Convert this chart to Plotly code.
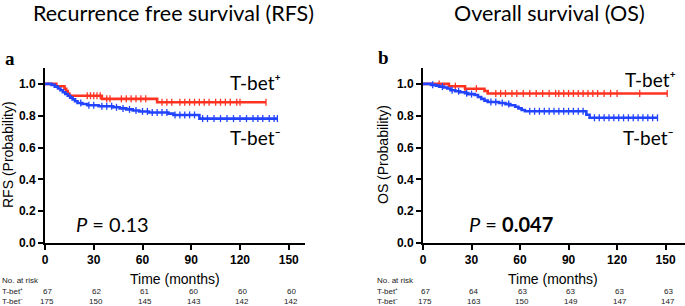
import numpy as np
import plotly.graph_objects as go

# ---------------- data ----------------
# RFS, T-bet+ (step times / survival)
rfs_pos_t = [0, 7, 12, 13, 14, 15, 35, 69]
rfs_pos_s = [1.0, 0.985, 0.97, 0.955, 0.94, 0.926, 0.906, 0.885]
rfs_pos_end = 136
rfs_pos_cens = [26, 28, 30, 32, 34, 38, 40, 47, 50, 53, 56, 59, 62, 72, 75, 78, 83, 86,
                89, 92, 95, 98, 101, 105, 108, 111, 114, 118, 120, 136]

# RFS, T-bet-
rfs_neg_t = [0, 4, 6, 8, 9.5, 11, 12.5, 14, 15.5, 17, 18.5, 20, 23, 26, 33, 42, 46, 50,
             54, 58, 64, 76, 79, 95]
rfs_neg_s = [1.0, 0.994, 0.983, 0.971, 0.96, 0.948, 0.937, 0.926, 0.914, 0.903, 0.891,
             0.88, 0.874, 0.866, 0.86, 0.853, 0.846, 0.84, 0.833, 0.827, 0.82, 0.813,
             0.805, 0.782]
rfs_neg_end = 143
rfs_neg_cens = [22, 27, 30, 35, 38, 41, 44, 48, 52, 56, 60, 63, 66, 69, 72, 75, 80, 83,
                86, 89, 92, 97, 100, 104, 108, 112, 116, 120, 124, 128, 131, 134, 138,
                141, 143]

# OS, T-bet+
os_pos_t = [0, 16, 26, 38, 40]
os_pos_s = [1.0, 0.985, 0.97, 0.955, 0.94]
os_pos_end = 151
os_pos_cens = [10, 20, 26, 33, 45, 48, 51, 55, 58, 62, 66, 70, 74, 78, 82, 84, 87, 90,
               93, 96, 99, 102, 105, 108, 112, 116, 120, 134, 151]

# OS, T-bet-
os_neg_t = [0, 5, 8, 10, 13, 15, 17, 20, 23, 26, 28, 32, 34, 36, 38, 40, 47, 51, 54,
            57, 59, 61, 63, 101, 103]
os_neg_s = [1.0, 0.994, 0.989, 0.983, 0.977, 0.971, 0.96, 0.954, 0.948, 0.942, 0.936,
            0.93, 0.918, 0.906, 0.895, 0.886, 0.88, 0.873, 0.866, 0.856, 0.846, 0.836,
            0.828, 0.806, 0.787]
os_neg_end = 145
os_neg_cens = [6, 12, 18, 22, 27, 30, 42, 45, 49, 53, 66, 69, 72, 75, 78, 81, 84, 87,
               90, 93, 96, 99, 106, 109, 112, 115, 118, 121, 124, 127, 130, 133, 136,
               139, 142, 145]

risk_times = [0, 30, 60, 90, 120, 150]
rfs_risk_pos = [67, 62, 61, 60, 60, 60]
rfs_risk_neg = [175, 150, 145, 143, 142, 142]
os_risk_pos = [67, 64, 63, 63, 63, 63]
os_risk_neg = [175, 163, 150, 149, 147, 147]

x_ticks = [0, 30, 60, 90, 120, 150]
y_ticks = [0.0, 0.2, 0.4, 0.6, 0.8, 1.0]

RED = "#FF3322"
BLUE = "#2244FF"

W, H = 685, 306


def px(x):
    return x / W


def py(y):
    return 1 - y / H


fig = go.Figure()


def add_km(t, s, end, cens, color, xa, ya):
    xs = list(t) + [end]
    ys = list(s) + [s[-1]]
    fig.add_trace(go.Scatter(x=xs, y=ys, mode="lines", line=dict(color=color, width=2.6, shape="hv"),
                             xaxis=xa, yaxis=ya, hoverinfo="skip", showlegend=False))
    tt = np.array(t)
    ss = np.array(s)
    idx = np.searchsorted(tt, np.array(cens), side="right") - 1
    cy = ss[idx]
    fig.add_trace(go.Scatter(x=cens, y=cy, mode="markers",
                             marker=dict(symbol="line-ns", size=5, line=dict(color=color, width=1.3)),
                             xaxis=xa, yaxis=ya, hoverinfo="skip", showlegend=False))


add_km(rfs_pos_t, rfs_pos_s, rfs_pos_end, rfs_pos_cens, RED, "x", "y")
add_km(rfs_neg_t, rfs_neg_s, rfs_neg_end, rfs_neg_cens, BLUE, "x", "y")
add_km(os_pos_t, os_pos_s, os_pos_end, os_pos_cens, RED, "x2", "y2")
add_km(os_neg_t, os_neg_s, os_neg_end, os_neg_cens, BLUE, "x2", "y2")

tickfont = dict(family="Liberation Sans, Arial", size=12, color="black", weight="bold")
ax_common = dict(showline=True, linecolor="black", linewidth=2, ticks="outside", ticklen=5,
                 tickwidth=2, tickcolor="black", showgrid=False, zeroline=False, tickfont=tickfont,
                 automargin=False)

y_bot, y_top = py(243), py(68)

fig.update_layout(
    width=W, height=H, margin=dict(l=0, r=0, t=0, b=0, autoexpand=False),
    paper_bgcolor="white", plot_bgcolor="white",
    xaxis=dict(domain=[px(45), px(305)], range=[0, 160], tickvals=x_ticks, anchor="y", **ax_common),
    yaxis=dict(domain=[y_bot, y_top], range=[0, 1.1], tickvals=y_ticks, tickformat=".1f",
               anchor="x", **ax_common),
    xaxis2=dict(domain=[px(423), 1.0], range=[0, 162], tickvals=x_ticks, anchor="y2", **ax_common),
    yaxis2=dict(domain=[y_bot, y_top], range=[0, 1.1], tickvals=y_ticks, tickformat=".1f",
                anchor="x2", **ax_common),
)

ann = []
TITLE_FONT = dict(family="Lato, Open Sans, sans-serif", size=21.5, color="black")
LABEL_FONT = dict(family="Lato, DejaVu Sans, sans-serif", size=19, color="black")
P_FONT = dict(family="Lato, Open Sans, sans-serif", size=20, color="black")
ARIAL = "Liberation Sans, Arial"


def A(text, x, y, xanchor="center", yanchor="middle", font=None, textangle=0, xref="paper", yref="paper"):
    ann.append(dict(text=text, x=x, y=y, xref=xref, yref=yref, xanchor=xanchor, yanchor=yanchor,
                    showarrow=False, font=font, textangle=textangle))


POS = "T-bet\u207a"
NEG = "T-bet\u207b"

# titles
A("Recurrence free survival (RFS)", px(173), py(13), font=TITLE_FONT)
A("Overall survival (OS)", px(549), py(13), font=TITLE_FONT)
# panel letters
A("a", px(3), py(58), xanchor="left", font=dict(family="Liberation Serif, Times New Roman", size=19, color="black", weight="bold"))
A("b", px(376), py(57), xanchor="left", font=dict(family="Liberation Serif, Times New Roman", size=19, color="black", weight="bold"))
# y titles
A("RFS (Probability)", px(8), py(155), font=dict(family=ARIAL, size=14, color="black"), textangle=-90)
A("OS (Probability)", px(383), py(155), font=dict(family=ARIAL, size=14, color="black"), textangle=-90)
# x titles
A("Time (months)", px(175), py(279), font=dict(family=ARIAL, size=14, color="black"))
A("Time (months)", px(553), py(279), font=dict(family=ARIAL, size=14, color="black"))
# curve labels
A(POS, px(228), py(83), xanchor="left", font=LABEL_FONT)
A(NEG, px(228), py(137), xanchor="left", font=LABEL_FONT)
A(POS, px(623), py(80), xanchor="left", font=LABEL_FONT)
A(NEG, px(621), py(137), xanchor="left", font=LABEL_FONT)
# p values
A("<i>P</i> = 0.13", px(74), py(224), xanchor="left", font=P_FONT)
A("<i>P</i> = <b>0.047</b>", px(467), py(224), xanchor="left", font=P_FONT)

# risk table
RF = dict(family=ARIAL, size=8, color="#222222")
for x0, pos, neg, xr in [(0, rfs_risk_pos, rfs_risk_neg, "x"), (375, os_risk_pos, os_risk_neg, "x2")]:
    A("No. at risk", px(x0), py(280), xanchor="left", font=RF)
    A(POS, px(x0), py(291), xanchor="left", font=RF)
    A(NEG, px(x0), py(301), xanchor="left", font=RF)
    for t, a, b in zip(risk_times, pos, neg):
        A(str(a), t + 1.5, py(291), font=RF, xref=xr)
        A(str(b), t + 1.5, py(301), font=RF, xref=xr)

fig.update_layout(annotations=ann)
fig.write_html("out.html", config={"displayModeBar": False},
               post_script="document.body.style.margin='0';document.body.style.padding='0';"
                           "document.documentElement.style.overflow='hidden';")
